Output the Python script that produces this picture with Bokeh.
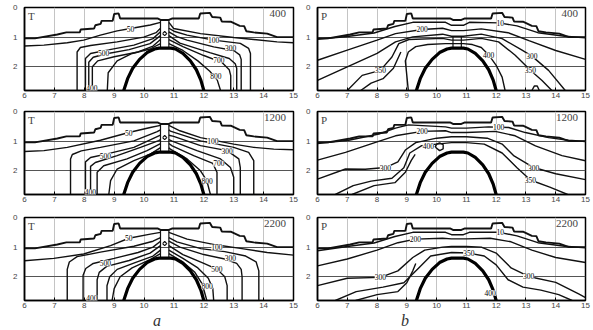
from bokeh.plotting import figure
from bokeh.models import Range1d, ColumnDataSource, LabelSet, Label, Div
from bokeh.layouts import row, column
from bokeh.embed import file_html
from bokeh.resources import INLINE
from bokeh.core.properties import value

X_TICKS = [6, 7, 8, 9, 10, 11, 12, 13, 14, 15]
Y_TICKS = [0, 1, 2]
Y_LINES = [1, 2]

# sea-floor / top surface (shared by all panels)
SURF_X = [6.0, 6.35, 7.1, 7.4, 7.85, 7.88, 8.33, 8.37, 8.55, 8.58, 8.95, 9.0, 9.15, 9.2, 10.45, 10.55,
          10.83, 10.95, 11.83, 11.88, 12.2, 12.28, 12.55, 12.6, 12.9, 13.2, 13.35, 13.42, 13.67, 14.12, 14.45, 15.0]
SURF_Y = [1.04, 1.04, 0.91, 0.84, 0.84, 0.74, 0.71, 0.6, 0.55, 0.45, 0.45, 0.22, 0.2, 0.37, 0.37, 0.42,
          0.42, 0.37, 0.37, 0.2, 0.18, 0.32, 0.34, 0.47, 0.48, 0.62, 0.63, 0.8, 0.84, 0.88, 1.0, 1.0]

# intrusion dome (thick line)
DOME_X = [9.32, 9.45, 9.62, 9.85, 10.1, 10.35, 10.5, 10.9, 11.05, 11.3, 11.55, 11.75, 11.9, 12.0]
DOME_Y = [2.8, 2.4, 2.05, 1.75, 1.52, 1.4, 1.37, 1.37, 1.4, 1.55, 1.8, 2.1, 2.45, 2.8]

# vent walls and the small closed loop inside the vent
VENT_XS = [[10.55, 10.55], [10.83, 10.83], [10.62, 10.69, 10.76, 10.69, 10.62]]
VENT_T_YS = [[0.42, 1.37], [0.42, 1.37], [0.88, 0.81, 0.88, 0.95, 0.88]]
VENT_P_YS = [[0.97, 1.37], [0.97, 1.37], [1.37, 1.37, 1.37, 1.37, 1.37]]

# ---------- T, t = 400 ----------
T400_XS = [
    [6.0, 6.65, 7.43, 7.98, 8.54, 9.1, 9.55, 10.21, 10.55],
    [10.83, 10.99, 11.89, 13.0, 13.67, 14.45, 15.0],
    [7.76, 7.76, 7.87, 8.21, 9.1, 9.99, 10.4, 10.55], [10.83, 11.0, 11.44, 12.33, 13.22, 13.5, 13.56, 13.56],
    [8.04, 8.04, 8.21, 8.76, 9.66, 10.3, 10.55], [10.83, 11.1, 11.44, 12.33, 13.0, 13.2, 13.25, 13.25],
    [8.15, 8.15, 8.3, 8.7, 9.5, 10.2, 10.55], [10.83, 11.2, 12.2, 12.85, 13.05, 13.1, 13.1],
    [8.27, 8.27, 8.45, 9.0, 9.8, 10.3, 10.55], [10.83, 11.3, 12.0, 12.6, 12.85, 12.9, 12.9],
    [8.77, 8.8, 9.1, 9.6, 10.2, 10.55], [10.83, 11.3, 11.8, 12.2, 12.45, 12.56],
]
T400_YS = [
    [1.3, 1.27, 1.19, 1.1, 0.93, 0.79, 0.71, 0.59, 0.5],
    [0.5, 0.71, 0.88, 1.01, 1.08, 1.16, 1.19],
    [2.8, 1.5, 1.35, 1.28, 1.16, 1.0, 0.85, 0.7], [0.7, 0.8, 0.93, 1.1, 1.21, 1.38, 1.55, 2.8],
    [2.8, 1.72, 1.55, 1.44, 1.27, 1.05, 0.82], [0.82, 0.98, 1.1, 1.33, 1.45, 1.6, 1.75, 2.8],
    [2.8, 1.85, 1.68, 1.57, 1.42, 1.22, 0.95], [0.95, 1.2, 1.52, 1.72, 1.9, 2.05, 2.8],
    [2.8, 2.0, 1.8, 1.66, 1.5, 1.3, 1.08], [1.08, 1.32, 1.62, 1.85, 2.1, 2.3, 2.8],
    [2.8, 2.2, 1.8, 1.55, 1.4, 1.22], [1.22, 1.45, 1.8, 2.15, 2.45, 2.8],
]
T400_LX = [9.55, 12.33, 12.9, 8.65, 12.5, 12.4, 8.25]
T400_LY = [0.71, 1.08, 1.35, 1.53, 1.77, 2.32, 2.72]
T400_LT = ["50", "100", "300", "500", "700", "800", "400"]

# ---------- T, t = 1200 ----------
T1200_XS = [
    [6.0, 6.65, 7.43, 8.54, 9.49, 10.21, 10.55],
    [10.83, 11.2, 11.89, 13.0, 13.67, 14.34, 15.0],
    [7.54, 7.54, 7.6, 7.9, 8.54, 9.66, 10.44, 10.55], [10.83, 10.88, 11.89, 13.0, 13.5, 13.67, 13.67],
    [8.04, 8.04, 8.21, 8.8, 9.66, 10.44, 10.55], [10.83, 10.99, 11.89, 12.78, 13.17, 13.22, 13.22],
    [8.21, 8.21, 8.37, 9.1, 9.88, 10.49, 10.55], [10.83, 10.94, 11.77, 12.56, 12.89, 13.0, 13.0],
    [8.43, 8.43, 8.65, 9.43, 10.1, 10.55], [10.83, 10.94, 11.66, 12.3, 12.44, 12.44],
    [8.82, 8.88, 9.1, 9.66, 10.21, 10.55], [10.83, 10.88, 11.44, 11.89, 12.1, 12.22],
]
T1200_YS = [
    [1.35, 1.32, 1.21, 0.97, 0.71, 0.54, 0.47],
    [0.47, 0.65, 0.88, 1.1, 1.21, 1.27, 1.29],
    [2.8, 1.6, 1.45, 1.33, 1.21, 0.99, 0.68, 0.62], [0.62, 0.66, 0.99, 1.21, 1.38, 1.66, 2.8],
    [2.8, 1.7, 1.55, 1.42, 1.21, 0.85, 0.8], [0.8, 0.84, 1.15, 1.32, 1.6, 1.89, 2.8],
    [2.8, 1.85, 1.72, 1.49, 1.21, 0.98, 0.95], [0.95, 1.0, 1.32, 1.6, 1.89, 2.22, 2.8],
    [2.8, 2.05, 1.83, 1.6, 1.32, 1.08], [1.08, 1.16, 1.49, 1.75, 2.05, 2.8],
    [2.8, 2.33, 1.94, 1.66, 1.44, 1.22], [1.22, 1.27, 1.6, 2.0, 2.33, 2.8],
]
T1200_LX = [9.49, 12.3, 12.78, 8.71, 12.5, 12.11, 8.2]
T1200_LY = [0.71, 1.0, 1.32, 1.49, 1.75, 2.33, 2.72]
T1200_LT = ["50", "100", "300", "500", "700", "800", "400"]

# ---------- T, t = 2200 ----------
T2200_XS = [
    [6.0, 6.98, 7.98, 8.88, 9.49, 10.21, 10.55],
    [10.83, 11.44, 12.44, 13.22, 14.12, 15.0],
    [7.43, 7.43, 7.5, 7.76, 8.54, 9.66, 10.3, 10.55], [10.83, 11.1, 11.9, 12.7, 13.4, 13.75, 13.84, 13.84],
    [7.96, 7.96, 8.05, 8.3, 9.0, 9.8, 10.3, 10.55], [10.83, 11.2, 12.0, 12.7, 13.1, 13.25, 13.28, 13.28],
    [8.43, 8.43, 8.5, 8.75, 9.5, 10.2, 10.55], [10.83, 11.3, 12.0, 12.45, 12.7, 12.78, 12.78],
    [8.76, 8.76, 8.85, 9.1, 9.7, 10.3, 10.55], [10.83, 11.3, 11.8, 12.15, 12.3, 12.33],
    [8.93, 9.0, 9.2, 9.6, 10.2, 10.55], [10.83, 11.3, 11.7, 11.95, 12.1],
]
T2200_YS = [
    [1.46, 1.38, 1.23, 0.95, 0.7, 0.56, 0.5],
    [0.5, 0.73, 0.93, 1.04, 1.18, 1.27],
    [2.8, 1.75, 1.5, 1.32, 1.17, 0.97, 0.8, 0.68], [0.68, 0.82, 1.05, 1.15, 1.3, 1.5, 1.8, 2.8],
    [2.8, 1.95, 1.72, 1.55, 1.38, 1.18, 1.0, 0.8], [0.8, 1.0, 1.25, 1.4, 1.55, 1.75, 2.0, 2.8],
    [2.8, 2.1, 1.85, 1.65, 1.45, 1.2, 0.95], [0.95, 1.25, 1.55, 1.75, 2.0, 2.3, 2.8],
    [2.8, 2.3, 2.0, 1.75, 1.52, 1.3, 1.1], [1.1, 1.38, 1.7, 2.05, 2.4, 2.8],
    [2.8, 2.4, 2.0, 1.7, 1.42, 1.22], [1.22, 1.5, 1.85, 2.25, 2.8],
]
T2200_LX = [9.49, 12.44, 12.89, 8.71, 12.44, 12.11, 8.25]
T2200_LY = [0.7, 1.01, 1.38, 1.54, 1.74, 2.32, 2.72]
T2200_LT = ["50", "100", "300", "500", "500", "800", "400"]

# ---------- P, t = 400 ----------
P400_XS = [
    [6.0, 7.0, 7.9, 8.6, 9.2, 10.3, 10.5, 10.9, 11.1, 12.1, 12.7, 13.4, 14.3, 15.0],
    [6.0, 7.0, 8.0, 8.62, 9.51, 10.2, 10.5, 10.9, 11.5, 12.4, 13.1, 14.0, 15.0],
    [6.0, 7.0, 8.0, 8.62, 9.2, 10.2, 10.5, 10.9, 11.5, 12.2, 12.87, 13.2, 13.76, 14.32],
    [7.0, 7.5, 8.11, 8.5, 8.73, 9.07, 10.2, 10.5, 10.9, 11.5, 12.08, 12.64, 13.15, 13.54, 13.87],
    [9.05, 9.0, 8.95, 9.05, 9.3, 9.7, 10.3, 10.5, 10.9, 11.2, 11.5, 11.75, 12.0, 12.2, 12.3],
    [7.45, 7.8, 8.2, 8.55, 8.8],
    [13.2, 13.28, 13.38, 13.45],
]
P400_YS = [
    [1.07, 0.98, 0.86, 0.64, 0.5, 0.5, 0.6, 0.6, 0.5, 0.52, 0.62, 0.85, 0.97, 1.02],
    [1.78, 1.44, 1.1, 0.88, 0.74, 0.7, 0.78, 0.78, 0.72, 0.85, 1.12, 1.45, 1.75],
    [2.46, 2.0, 1.55, 1.16, 0.99, 0.9, 0.97, 0.97, 0.9, 1.05, 1.44, 1.64, 2.12, 2.8],
    [2.8, 2.29, 2.12, 1.67, 1.22, 1.08, 1.04, 1.1, 1.1, 1.04, 1.16, 1.61, 2.12, 2.46, 2.8],
    [2.8, 2.3, 1.8, 1.5, 1.32, 1.25, 1.22, 1.22, 1.22, 1.25, 1.35, 1.6, 1.95, 2.35, 2.8],
    [2.8, 2.55, 2.4, 2.05, 1.5],
    [2.8, 2.65, 2.65, 2.8],
]
P400_LX = [12.14, 9.51, 13.2, 8.11, 13.15, 11.75]
P400_LY = [0.52, 0.74, 1.64, 2.12, 2.12, 1.61]
P400_LT = ["10", "200", "300", "350", "350", "400"]

# ---------- P, t = 1200 ----------
P1200_XS = [
    [6.0, 7.05, 8.06, 8.62, 9.06, 10.3, 10.5, 11.0, 11.75, 12.42, 12.98, 13.76, 14.43, 15.0],
    [6.0, 6.94, 7.95, 8.62, 9.51, 10.3, 10.5, 11.0, 11.97, 12.64, 13.32, 14.21, 15.0],
    [6.0, 6.94, 7.6, 8.28, 8.7, 8.95, 9.3, 10.0, 10.5, 11.0, 11.7, 12.2, 12.6, 13.26, 14.0, 15.0],
    [6.6, 7.2, 7.8, 8.5, 8.9, 9.1, 9.5, 10.5, 11.0, 11.6, 12.2, 12.7, 13.15, 13.8, 14.4],
    [7.16, 7.9, 8.6, 8.95, 9.15, 9.28],
    [9.95, 10.0, 10.1, 10.22, 10.22, 10.1, 9.95],
]
P1200_YS = [
    [1.08, 0.97, 0.76, 0.56, 0.45, 0.52, 0.56, 0.56, 0.52, 0.54, 0.71, 0.88, 0.97, 1.01],
    [1.64, 1.38, 1.04, 0.82, 0.67, 0.65, 0.71, 0.71, 0.67, 0.82, 1.16, 1.49, 1.66],
    [2.28, 1.94, 1.95, 1.89, 1.7, 1.3, 1.05, 0.9, 0.85, 0.85, 0.9, 1.1, 1.5, 1.89, 2.1, 2.3],
    [2.8, 2.5, 2.35, 2.25, 1.9, 1.4, 1.15, 1.05, 1.05, 1.1, 1.4, 1.9, 2.31, 2.55, 2.8],
    [2.8, 2.5, 2.4, 2.05, 1.65, 1.45],
    [1.2, 1.1, 1.06, 1.12, 1.26, 1.32, 1.2],
]
P1200_LX = [12.08, 9.51, 9.72, 8.28, 13.26, 13.15]
P1200_LY = [0.52, 0.67, 1.16, 1.89, 1.89, 2.31]
P1200_LT = ["100", "200", "400", "300", "300", "350"]

# ---------- P, t = 2200 ----------
P2200_XS = [
    [6.0, 7.0, 7.9, 8.6, 9.2, 10.3, 10.5, 10.9, 11.1, 12.1, 12.7, 13.4, 14.3, 15.0],
    [6.0, 7.0, 8.0, 8.7, 9.29, 10.2, 10.5, 11.0, 11.8, 12.5, 13.2, 14.0, 15.0],
    [6.0, 7.0, 8.11, 8.7, 9.2, 9.6, 10.2, 10.5, 11.0, 11.5, 12.0, 12.5, 13.09, 14.0, 14.77, 15.0],
    [6.6, 7.3, 8.2, 8.9, 9.4, 9.8, 10.5, 11.08, 11.6, 12.0, 12.4, 12.9, 13.5, 14.1, 14.55],
    [7.28, 8.0, 8.7, 9.0, 9.2, 9.3],
]
P2200_YS = [
    [1.12, 0.98, 0.86, 0.64, 0.5, 0.5, 0.58, 0.58, 0.5, 0.5, 0.62, 0.85, 0.97, 1.02],
    [1.63, 1.4, 1.1, 0.85, 0.73, 0.7, 0.72, 0.72, 0.7, 0.82, 1.1, 1.35, 1.52],
    [2.3, 2.05, 2.02, 1.8, 1.35, 1.1, 1.0, 0.98, 0.98, 1.0, 1.2, 1.7, 1.99, 2.19, 2.58, 2.7],
    [2.8, 2.5, 2.35, 2.2, 1.7, 1.3, 1.18, 1.2, 1.3, 1.6, 2.1, 2.35, 2.45, 2.6, 2.8],
    [2.8, 2.6, 2.5, 2.2, 1.8, 1.55],
]
P2200_LX = [12.14, 9.29, 11.08, 8.11, 13.09, 11.8]
P2200_LY = [0.5, 0.73, 1.2, 2.02, 1.99, 2.55]
P2200_LT = ["10", "200", "350", "300", "300", "400"]

SERIF = "Liberation Serif"
SANS = "Liberation Sans"


def panel(letter, time, xs, ys, lx, ly, lt, col, rw, vent_ys):
    fw = 269 if col == 0 else 268
    bl, br = (24, 10) if col == 0 else (14, 6)
    bt = [7, 4, 4][rw]
    bb = [17, 19, 15][rw]
    p = figure(frame_width=fw, frame_height=83, min_border_left=bl, min_border_right=br,
               min_border_top=bt, min_border_bottom=bb,
               x_range=Range1d(6, 15), y_range=Range1d(2.8, 0),
               output_backend="svg", toolbar_location=None, title_location=None)
    p.background_fill_color = "white"
    p.border_fill_color = "white"
    p.outline_line_color = "black"
    p.outline_line_width = 1.5
    p.xgrid.ticker = X_TICKS
    p.xgrid.grid_line_color = "#c4c4c4"
    p.ygrid.ticker = Y_LINES
    p.ygrid.grid_line_color = "#555555"
    p.ygrid.grid_line_width = 1.2
    for ax in (p.xaxis[0], p.yaxis[0]):
        ax.major_label_text_font = SANS
        ax.major_label_text_font_size = "8px"
        ax.major_label_text_color = "#444444"
        ax.minor_tick_line_color = None
        ax.axis_line_width = 1.5
        ax.major_tick_out = 0
    p.xaxis.ticker = X_TICKS
    p.yaxis.ticker = Y_TICKS
    p.xaxis.major_tick_in = 3
    p.yaxis.major_tick_in = 0
    p.xaxis.major_label_standoff = 2
    p.yaxis.major_label_standoff = 7

    p.multi_line(xs=xs, ys=ys, line_color="#111111", line_width=1.4)
    p.multi_line(xs=VENT_XS, ys=vent_ys, line_color="#111111", line_width=1.2)
    p.line(SURF_X, SURF_Y, line_color="#111111", line_width=1.9)
    p.line(DOME_X, DOME_Y, line_color="black", line_width=3.2)

    src = ColumnDataSource(dict(x=lx, y=ly, t=lt))
    p.add_layout(LabelSet(source=src, x="x", y="y", text="t", text_align="center",
                          text_baseline="middle", text_font=value(SERIF), text_font_size="7.5px",
                          text_color="black", background_fill_color="white"))
    p.add_layout(Label(x=6.12, y=0.08, text=letter, text_align="left", text_baseline="top",
                       text_font=SERIF, text_font_size="11px", text_color="#444444"))
    p.add_layout(Label(x=14.75, y=0.1, text=time, text_align="right", text_baseline="top",
                       text_font=SERIF, text_font_size="11px", text_color="#444444"))
    return p


def tag(text, width, pad):
    return Div(text=text, width=width, height=13, margin=0,
               styles={"font-family": SERIF, "font-style": "italic", "font-size": "16px",
                       "line-height": "11px", "color": "#333333", "padding-left": f"{pad}px",
                       "box-sizing": "border-box", "overflow": "visible"})


pa1 = panel("T", "400", T400_XS, T400_YS, T400_LX, T400_LY, T400_LT, 0, 0, VENT_T_YS)
pb1 = panel("P", "400", P400_XS, P400_YS, P400_LX, P400_LY, P400_LT, 1, 0, VENT_P_YS)
pa2 = panel("T", "1200", T1200_XS, T1200_YS, T1200_LX, T1200_LY, T1200_LT, 0, 1, VENT_T_YS)
pb2 = panel("P", "1200", P1200_XS, P1200_YS, P1200_LX, P1200_LY, P1200_LT, 1, 1, [[], [], []])
pa3 = panel("T", "2200", T2200_XS, T2200_YS, T2200_LX, T2200_LY, T2200_LT, 0, 2, VENT_T_YS)
pb3 = panel("P", "2200", P2200_XS, P2200_YS, P2200_LX, P2200_LY, P2200_LT, 1, 2, [[], [], []])

tags = row(tag("a", 303, 153), tag("b", 288, 98))
layout = column(row(pa1, pb1), row(pa2, pb2), row(pa3, pb3), tags)

open("out.html", "w").write(file_html(layout, INLINE))
